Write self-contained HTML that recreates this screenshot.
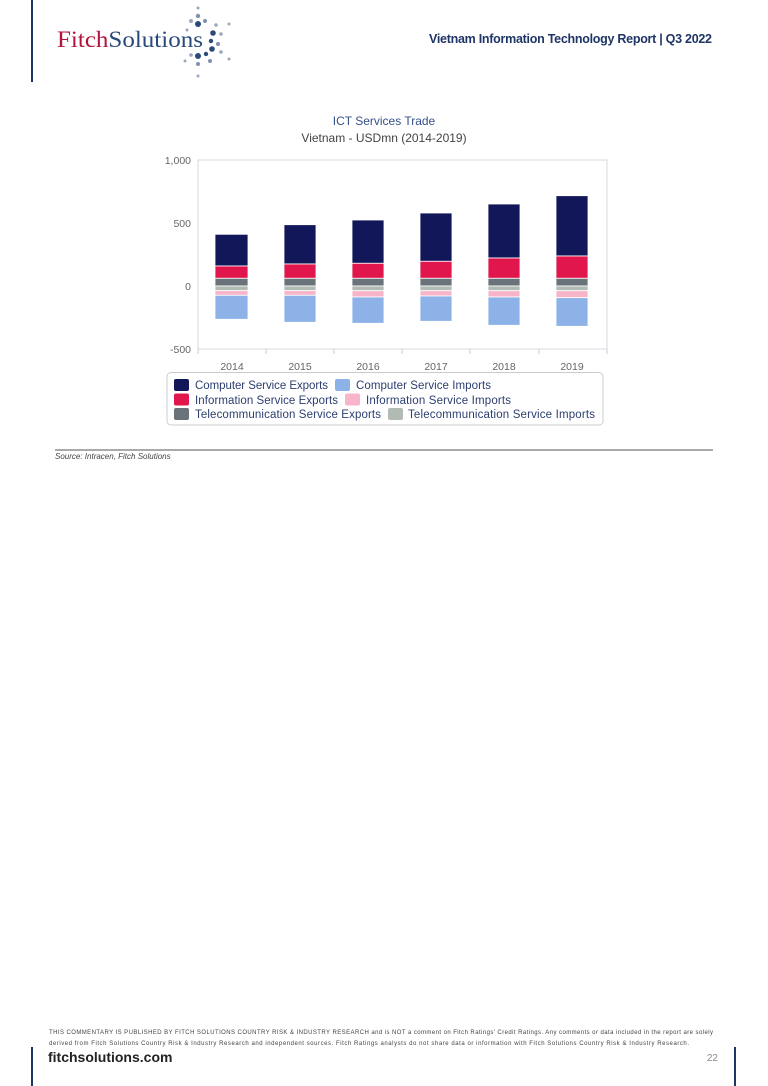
<!DOCTYPE html>
<html><head><meta charset="utf-8"><style>
html,body{margin:0;padding:0;background:#fff;}
body{width:768px;height:1086px;position:relative;overflow:hidden;font-family:"Liberation Sans",sans-serif;}
</style></head><body>
<svg width="768" height="1086" viewBox="0 0 768 1086" xmlns="http://www.w3.org/2000/svg" style="position:absolute;left:0;top:0">
<rect x="31" y="0" width="2" height="82" fill="#1f3566"/>
<text x="57" y="47" font-family="Liberation Serif,serif" font-size="23" fill="#b0143a" textLength="146" lengthAdjust="spacingAndGlyphs">Fitch<tspan fill="#2b4a7a">Solutions</tspan></text>
<g fill="#2b4a7a">
<circle cx="198" cy="8" r="1.5" fill="#9aa8bf"/><circle cx="198" cy="16" r="2.2" fill="#8090b0"/>
<circle cx="191" cy="21" r="2" fill="#9aa8bf"/><circle cx="198" cy="24" r="3"/><circle cx="205" cy="21" r="2" fill="#8090b0"/>
<circle cx="216" cy="25" r="1.8" fill="#9aa8bf"/><circle cx="229" cy="24" r="1.5" fill="#9aa8bf"/>
<circle cx="187" cy="30" r="1.5" fill="#9aa8bf"/><circle cx="213" cy="33" r="2.8"/><circle cx="221" cy="34" r="1.8" fill="#9aa8bf"/>
<circle cx="211" cy="41" r="2.2"/><circle cx="218" cy="44" r="2" fill="#8090b0"/>
<circle cx="212" cy="49" r="2.8"/><circle cx="221" cy="52" r="1.8" fill="#9aa8bf"/>
<circle cx="191" cy="55" r="1.8" fill="#9aa8bf"/><circle cx="198" cy="56" r="3"/><circle cx="206" cy="54" r="2.2"/><circle cx="229" cy="59" r="1.5" fill="#9aa8bf"/>
<circle cx="185" cy="61" r="1.5" fill="#9aa8bf"/><circle cx="198" cy="64" r="2" fill="#8090b0"/><circle cx="210" cy="61" r="2" fill="#8090b0"/>
<circle cx="198" cy="76" r="1.5" fill="#9aa8bf"/>
</g>
<text x="712" y="43" text-anchor="end" font-size="12.5" font-weight="bold" fill="#1f3566" textLength="283">Vietnam Information Technology Report | Q3 2022</text>
<text x="384" y="125" text-anchor="middle" font-size="12" fill="#34508a">ICT Services Trade</text>
<text x="384" y="142" text-anchor="middle" font-size="12" fill="#444">Vietnam - USDmn (2014-2019)</text>
<rect x="198" y="160" width="409" height="189" fill="none" stroke="#d5dae0" stroke-width="1"/>
<g font-size="10.5" fill="#666" text-anchor="end">
<text x="191" y="164">1,000</text><text x="191" y="227">500</text><text x="191" y="290">0</text><text x="191" y="353">-500</text>
</g>
<g stroke="#c8ccd2" stroke-width="1">
<line x1="198" y1="349" x2="198" y2="354"/><line x1="266" y1="349" x2="266" y2="354"/><line x1="334" y1="349" x2="334" y2="354"/><line x1="402" y1="349" x2="402" y2="354"/><line x1="470" y1="349" x2="470" y2="354"/><line x1="539" y1="349" x2="539" y2="354"/><line x1="607" y1="349" x2="607" y2="354"/>
</g>
<g font-size="10.5" fill="#666" text-anchor="middle">
<text x="232" y="370">2014</text><text x="300" y="370">2015</text><text x="368" y="370">2016</text><text x="436" y="370">2017</text><text x="504" y="370">2018</text><text x="572" y="370">2019</text>
</g>
<g stroke="#fff" stroke-width="0.8">
<rect x="215" y="234.3" width="33" height="31.7" fill="#12175a"/><rect x="215" y="266" width="33" height="12.3" fill="#e0164c"/><rect x="215" y="278.3" width="33" height="7.7" fill="#6a727a"/><rect x="215" y="286" width="33" height="4.7" fill="#b2bab4"/><rect x="215" y="290.7" width="33" height="4.6" fill="#f8b4c8"/><rect x="215" y="295.3" width="33" height="24" fill="#8cb2e8"/>
<rect x="284" y="224.7" width="32" height="39.3" fill="#12175a"/><rect x="284" y="264" width="32" height="14.3" fill="#e0164c"/><rect x="284" y="278.3" width="32" height="7.7" fill="#6a727a"/><rect x="284" y="286" width="32" height="4.7" fill="#b2bab4"/><rect x="284" y="290.7" width="32" height="4.6" fill="#f8b4c8"/><rect x="284" y="295.3" width="32" height="27" fill="#8cb2e8"/>
<rect x="352" y="220" width="32" height="43.3" fill="#12175a"/><rect x="352" y="263.3" width="32" height="15" fill="#e0164c"/><rect x="352" y="278.3" width="32" height="7.7" fill="#6a727a"/><rect x="352" y="286" width="32" height="4.7" fill="#b2bab4"/><rect x="352" y="290.7" width="32" height="6.3" fill="#f8b4c8"/><rect x="352" y="297" width="32" height="26.3" fill="#8cb2e8"/>
<rect x="420" y="213" width="32" height="48.3" fill="#12175a"/><rect x="420" y="261.3" width="32" height="17" fill="#e0164c"/><rect x="420" y="278.3" width="32" height="7.7" fill="#6a727a"/><rect x="420" y="286" width="32" height="4.7" fill="#b2bab4"/><rect x="420" y="290.7" width="32" height="5.3" fill="#f8b4c8"/><rect x="420" y="296" width="32" height="25.3" fill="#8cb2e8"/>
<rect x="488" y="204" width="32" height="54" fill="#12175a"/><rect x="488" y="258" width="32" height="20.3" fill="#e0164c"/><rect x="488" y="278.3" width="32" height="7.7" fill="#6a727a"/><rect x="488" y="286" width="32" height="4.7" fill="#b2bab4"/><rect x="488" y="290.7" width="32" height="6.3" fill="#f8b4c8"/><rect x="488" y="297" width="32" height="28.3" fill="#8cb2e8"/>
<rect x="556" y="195.7" width="32" height="60.3" fill="#12175a"/><rect x="556" y="256" width="32" height="22.3" fill="#e0164c"/><rect x="556" y="278.3" width="32" height="7.7" fill="#6a727a"/><rect x="556" y="286" width="32" height="4.7" fill="#b2bab4"/><rect x="556" y="290.7" width="32" height="7" fill="#f8b4c8"/><rect x="556" y="297.7" width="32" height="28.6" fill="#8cb2e8"/>
</g>
<rect x="167" y="372.5" width="436" height="52.5" rx="4" fill="#fff" stroke="#c8ccd2"/>
<g font-size="11.5" fill="#2c3e70">
<rect x="174" y="379" width="15" height="12" rx="2" fill="#12175a"/><text x="195" y="389" textLength="133">Computer Service Exports</text>
<rect x="335" y="379" width="15" height="12" rx="2" fill="#8cb2e8"/><text x="356" y="389" textLength="135">Computer Service Imports</text>
<rect x="174" y="393.5" width="15" height="12" rx="2" fill="#e0164c"/><text x="195" y="404" textLength="143">Information Service Exports</text>
<rect x="345" y="393.5" width="15" height="12" rx="2" fill="#f8b4c8"/><text x="366" y="404" textLength="145">Information Service Imports</text>
<rect x="174" y="408" width="15" height="12" rx="2" fill="#6a727a"/><text x="195" y="418" textLength="186">Telecommunication Service Exports</text>
<rect x="388" y="408" width="15" height="12" rx="2" fill="#b2bab4"/><text x="408" y="418" textLength="187">Telecommunication Service Imports</text>
</g>
<line x1="55" y1="450" x2="713" y2="450" stroke="#555" stroke-width="1"/>
<text x="55" y="459" font-size="8" font-style="italic" fill="#444">Source: Intracen, Fitch Solutions</text>
<text x="49" y="1034" font-size="6" fill="#444" textLength="664">THIS COMMENTARY IS PUBLISHED BY FITCH SOLUTIONS COUNTRY RISK &amp; INDUSTRY RESEARCH and is NOT a comment on Fitch Ratings' Credit Ratings. Any comments or data included in the report are solely</text>
<text x="49" y="1045" font-size="6" fill="#444" textLength="640">derived from Fitch Solutions Country Risk &amp; Industry Research and independent sources. Fitch Ratings analysts do not share data or information with Fitch Solutions Country Risk &amp; Industry Research.</text>
<rect x="31" y="1047" width="2" height="39" fill="#1f3566"/>
<rect x="734" y="1047" width="2" height="39" fill="#1f3566"/>
<text x="48" y="1062" font-size="14" font-weight="bold" fill="#222">fitchsolutions.com</text>
<text x="718" y="1061" font-size="10" fill="#888" text-anchor="end">22</text>
</svg>
</body></html>
